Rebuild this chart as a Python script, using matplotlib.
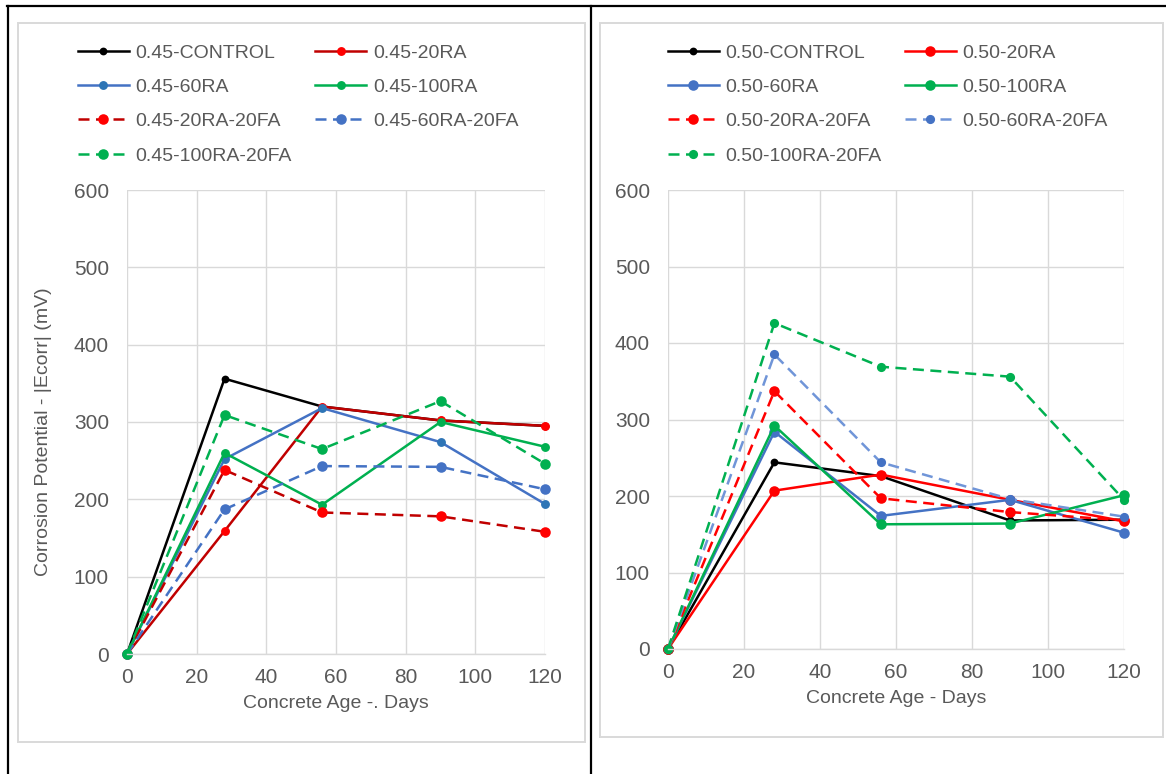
import matplotlib
matplotlib.use("Agg")
import matplotlib.pyplot as plt
from matplotlib.lines import Line2D
from matplotlib.patches import Rectangle

plt.rcParams["font.family"] = ["Liberation Sans", "DejaVu Sans"]

# Concrete age (days) at which the corrosion potential was measured
days = [0, 28, 56, 90, 120]

# w/c = 0.45 mixes, |Ecorr| in mV
w45_control = [0, 356, 320, 302, 295]
w45_20ra = [0, 159, 320, 302, 295]
w45_60ra = [0, 252, 318, 274, 194]
w45_100ra = [0, 260, 193, 300, 268]
w45_20ra_20fa = [0, 238, 183, 178, 158]
w45_60ra_20fa = [0, 187, 243, 242, 213]
w45_100ra_20fa = [0, 309, 265, 327, 246]

# w/c = 0.50 mixes, |Ecorr| in mV
w50_control = [0, 244, 226, 168, 169]
w50_20ra = [0, 207, 228, 195, 167]
w50_60ra = [0, 284, 174, 195, 152]
w50_100ra = [0, 292, 163, 164, 201]
w50_20ra_20fa = [0, 337, 197, 179, 168]
w50_60ra_20fa = [0, 385, 244, 196, 173]
w50_100ra_20fa = [0, 426, 369, 356, 195]

labels45 = ["0.45-CONTROL", "0.45-20RA", "0.45-60RA", "0.45-100RA",
            "0.45-20RA-20FA", "0.45-60RA-20FA", "0.45-100RA-20FA"]
labels50 = ["0.50-CONTROL", "0.50-20RA", "0.50-60RA", "0.50-100RA",
            "0.50-20RA-20FA", "0.50-60RA-20FA", "0.50-100RA-20FA"]

x_ticks = [0, 20, 40, 60, 80, 100, 120]
y_ticks = [0, 100, 200, 300, 400, 500, 600]

BLACK = "#000000"
DKRED = "#C00000"
RED = "#FF0000"
BLUE = "#4472C4"
MBLUE = "#2E75B6"
LBLUE = "#7095D8"
GREEN = "#00B050"
GRID = "#D9D9D9"
TXT = "#595959"
DASH = (4.4, 2.6)

# (values, line colour, marker colour, dashed, marker size)
series45 = [
    (w45_control, BLACK, BLACK, False, 5.6),
    (w45_20ra, DKRED, RED, False, 6.4),
    (w45_60ra, BLUE, MBLUE, False, 6.4),
    (w45_100ra, GREEN, GREEN, False, 6.4),
    (w45_20ra_20fa, DKRED, RED, True, 7.6),
    (w45_60ra_20fa, BLUE, BLUE, True, 7.6),
    (w45_100ra_20fa, GREEN, GREEN, True, 7.6),
]
series50 = [
    (w50_control, BLACK, BLACK, False, 5.6),
    (w50_20ra, RED, RED, False, 7.6),
    (w50_60ra, BLUE, BLUE, False, 7.6),
    (w50_100ra, GREEN, GREEN, False, 7.6),
    (w50_20ra_20fa, RED, RED, True, 7.6),
    (w50_60ra_20fa, LBLUE, BLUE, True, 6.6),
    (w50_100ra_20fa, GREEN, GREEN, True, 6.6),
]

W, H = 1166, 774
fig = plt.figure(figsize=(W / 100, H / 100), dpi=100)


def fx(px):
    return px / W


def fy(py):
    return 1 - py / H


# table borders around the two charts
for (x0, y0, x1, y1) in [(7, 6, W, 6), (7.5, 6, 7.5, H), (591, 6, 591, H)]:
    fig.add_artist(Line2D([fx(x0), fx(x1)], [fy(y0), fy(y1)],
                          color="black", lw=1.6, transform=fig.transFigure))

# chart area frames
for (x0, y0, x1, y1) in [(18, 23, 585, 742), (600, 23, 1163, 737)]:
    fig.add_artist(Rectangle((fx(x0), fy(y1)), fx(x1) - fx(x0), fy(y0) - fy(y1),
                             fill=False, ec=GRID, lw=1.4,
                             transform=fig.transFigure))


def draw_panel(rect, series, labels, xlabel, leg_anchor, ylabel=None):
    x0, y0, x1, y1 = rect
    ax = fig.add_axes([fx(x0), fy(y1), fx(x1) - fx(x0), fy(y0) - fy(y1)])
    handles = []
    for (vals, lc, mc, dashed, ms), lab in zip(series, labels):
        ln, = ax.plot(days, vals, color=lc, lw=1.8,
                      linestyle=(0, DASH) if dashed else "-",
                      marker="o", ms=ms, mfc=mc, mec=mc, mew=0,
                      clip_on=False, label=lab)
        handles.append(ln)
    ax.set_xlim(0, 120)
    ax.set_ylim(0, 600)
    ax.set_xticks(x_ticks)
    ax.set_yticks(y_ticks)
    ax.grid(True, color=GRID, lw=1.0)
    ax.set_axisbelow(True)
    for s in ["top", "right", "left"]:
        ax.spines[s].set_visible(False)
    ax.spines["bottom"].set_color(GRID)
    ax.spines["bottom"].set_linewidth(1.0)
    ax.tick_params(axis="both", length=0, labelsize=15, labelcolor=TXT)
    ax.tick_params(axis="y", pad=13)
    ax.tick_params(axis="x", pad=10)
    ax.set_xlabel(xlabel, fontsize=14, color=TXT, labelpad=6)
    if ylabel:
        ax.set_ylabel(ylabel, fontsize=14, color=TXT)
        ax.yaxis.set_label_coords(-0.179, 0.48)
    order = [0, 2, 4, 6, 1, 3, 5]
    ax.legend([handles[i] for i in order], [labels[i] for i in order],
              ncol=2, loc="upper left",
              bbox_to_anchor=(fx(leg_anchor[0]), fy(leg_anchor[1])),
              bbox_transform=fig.transFigure, frameon=False,
              fontsize=14, handlelength=2.6, handletextpad=0.36,
              columnspacing=1.2, labelspacing=0.86, borderpad=0,
              borderaxespad=0, labelcolor=TXT)
    return ax


draw_panel((127, 190, 545, 654), series45, labels45,
           "Concrete Age -. Days", (78, 44),
           ylabel="Corrosion Potential - |Ecorr| (mV)")
draw_panel((668, 190, 1124, 649), series50, labels50,
           "Concrete Age - Days", (668, 44))

fig.savefig("out.png", dpi=100)
